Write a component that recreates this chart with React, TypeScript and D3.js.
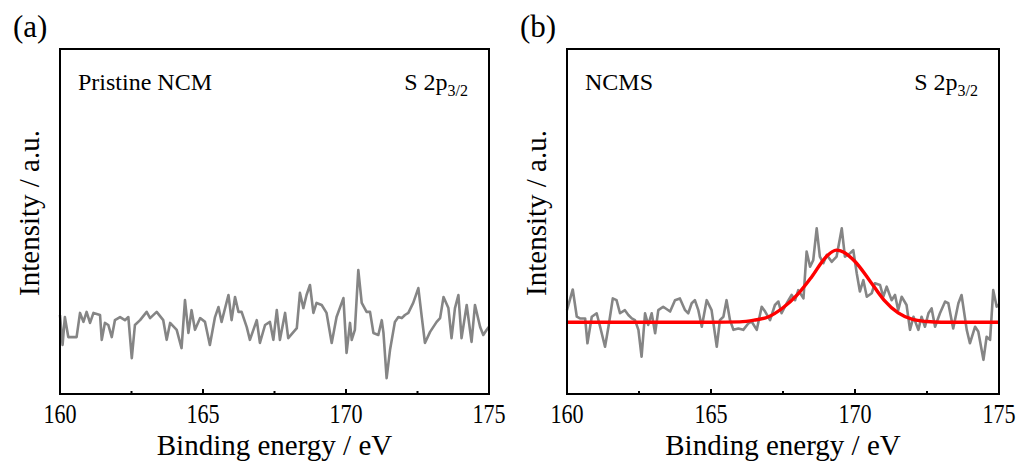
import React from 'react'
import * as d3 from 'd3'

// (a) pristine NCM, S 2p3/2 region
const energyA = [160.0, 160.09, 160.17, 160.29, 160.58, 160.7, 160.82, 160.93, 161.05, 161.17, 161.4, 161.46, 161.57, 161.69, 161.81, 161.92, 162.1, 162.27, 162.39, 162.51, 162.62, 162.8, 163.03, 163.15, 163.38, 163.61, 163.73, 163.85, 164.08, 164.25, 164.37, 164.49, 164.6, 164.72, 164.9, 165.07, 165.24, 165.42, 165.54, 165.65, 165.89, 166.0, 166.12, 166.24, 166.35, 166.53, 166.64, 166.88, 166.99, 167.17, 167.34, 167.46, 167.58, 167.69, 167.87, 167.98, 168.28, 168.39, 168.51, 168.62, 168.74, 168.86, 168.97, 169.15, 169.32, 169.5, 169.67, 169.91, 170.02, 170.14, 170.2, 170.31, 170.43, 170.55, 170.72, 170.84, 170.96, 171.13, 171.25, 171.31, 171.42, 171.54, 171.71, 171.83, 171.95, 172.06, 172.18, 172.35, 172.53, 172.65, 172.76, 172.94, 173.17, 173.29, 173.41, 173.58, 173.69, 173.81, 173.93, 174.04, 174.22, 174.39, 174.51, 174.69, 174.8, 174.92, 175.0]
const intensityA = [22.9, 14.2, 22.3, 16.5, 16.5, 23.5, 20.9, 23.8, 20.6, 23.5, 22.9, 15.7, 20.6, 20.0, 16.5, 21.4, 22.3, 21.4, 22.3, 10.4, 20.0, 21.4, 23.8, 22.0, 23.8, 21.4, 15.7, 20.6, 18.6, 13.3, 27.2, 17.7, 24.3, 18.6, 22.0, 20.9, 14.2, 22.3, 25.2, 20.9, 28.7, 21.4, 28.1, 23.8, 23.8, 19.4, 15.7, 21.4, 14.8, 20.0, 20.9, 15.7, 24.3, 15.7, 23.5, 16.2, 19.1, 29.3, 24.9, 28.7, 31.6, 23.5, 26.4, 25.8, 23.5, 14.8, 22.3, 27.8, 11.9, 20.6, 15.7, 18.6, 35.9, 26.4, 23.8, 23.8, 17.7, 17.1, 21.4, 17.7, 4.6, 12.8, 20.9, 22.3, 22.0, 22.9, 23.5, 26.4, 30.7, 22.3, 14.8, 18.0, 20.9, 22.0, 28.1, 24.9, 16.2, 24.9, 28.7, 16.2, 25.8, 15.1, 25.8, 19.4, 17.1, 18.6, 19.5]

// (b) NCMS raw spectrum
const energyB = [160.0, 160.2, 160.34, 160.45, 160.63, 160.71, 160.86, 161.03, 161.15, 161.32, 161.44, 161.59, 161.72, 161.84, 162.01, 162.13, 162.25, 162.36, 162.48, 162.59, 162.71, 162.82, 162.94, 163.06, 163.17, 163.34, 163.58, 163.75, 163.92, 164.1, 164.21, 164.33, 164.44, 164.56, 164.68, 164.85, 165.02, 165.2, 165.31, 165.43, 165.54, 165.66, 165.78, 165.95, 166.12, 166.3, 166.41, 166.59, 166.76, 166.88, 167.05, 167.22, 167.34, 167.45, 167.63, 167.8, 167.92, 168.03, 168.21, 168.32, 168.44, 168.55, 168.67, 168.78, 168.9, 169.02, 169.19, 169.36, 169.54, 169.65, 169.83, 169.94, 170.06, 170.17, 170.29, 170.41, 170.58, 170.69, 170.87, 170.98, 171.1, 171.27, 171.39, 171.5, 171.62, 171.79, 171.91, 172.03, 172.2, 172.31, 172.43, 172.55, 172.66, 172.78, 172.95, 173.13, 173.24, 173.41, 173.59, 173.7, 173.88, 173.99, 174.17, 174.28, 174.46, 174.57, 174.69, 174.8, 174.92, 175.0]
const intensityB = [24.3, 30.3, 22.4, 21.9, 21.9, 14.7, 22.4, 23.4, 19.5, 13.7, 19.5, 27.7, 27.2, 23.4, 24.3, 22.9, 21.9, 21.4, 18.6, 10.8, 23.4, 20.0, 23.4, 17.6, 24.3, 25.3, 23.9, 27.2, 27.7, 24.3, 23.4, 26.3, 27.2, 24.3, 19.5, 27.2, 24.3, 13.7, 21.4, 22.4, 27.2, 21.4, 18.6, 19.0, 18.6, 20.5, 21.0, 18.6, 25.3, 23.9, 21.4, 25.8, 26.8, 23.4, 26.3, 28.7, 27.2, 30.1, 27.7, 41.3, 36.9, 38.8, 48.0, 39.8, 37.9, 40.3, 38.3, 39.8, 48.0, 39.8, 40.8, 41.7, 35.0, 29.7, 33.0, 28.2, 29.2, 32.1, 31.6, 28.2, 31.1, 27.2, 28.7, 24.3, 28.2, 25.8, 18.6, 22.4, 18.6, 22.4, 19.5, 23.4, 24.8, 19.5, 23.4, 26.8, 26.3, 19.0, 26.3, 28.7, 18.6, 14.7, 19.5, 18.1, 9.9, 16.6, 15.7, 30.1, 25.3, 26.0]

// (b) fitted S 2p3/2 peak
const fitEnergy = [160, 163, 165, 166, 166.5, 167, 167.5, 168, 168.5, 169, 169.35, 169.5, 170, 170.5, 171, 171.5, 172, 172.5, 173, 175]
const fitIntensity = [20.8, 20.8, 20.8, 20.9, 21.4, 22.4, 25.0, 28.8, 34.0, 39.8, 41.7, 41.5, 38.4, 33.0, 27.3, 23.5, 21.6, 21.0, 20.8, 20.8]

const majorTicks = [160, 165, 170, 175]
const minorTicks = [162.5, 167.5, 172.5]

const FONT = '"Liberation Serif", "Times New Roman", serif'
const TOP = 49
const BOTTOM = 394

type PanelProps = {
  x0: number
  x1: number
  tag: string
  sample: string
  energy: number[]
  intensity: number[]
  fitE?: number[]
  fitI?: number[]
}

const Panel = ({ x0, x1, tag, sample, energy, intensity, fitE, fitI }: PanelProps) => {
  const x = d3.scaleLinear().domain([160, 175]).range([x0, x1])
  const y = d3.scaleLinear().domain([0, 100]).range([BOTTOM, TOP])

  const line = d3.line<number>()
    .x((_, i) => x(energy[i]))
    .y(d => y(d))

  const fitLine = d3.line<number>()
    .x((_, i) => x(fitE![i]))
    .y(d => y(d))
    .curve(d3.curveMonotoneX)

  return (
    <g>
      {/* panel tag */}
      <text x={x0 - 47} y={37} fontFamily={FONT} fontSize={31} fill="#000">{tag}</text>

      <path d={line(intensity) || ''} fill="none" stroke="#858585" strokeWidth={2.6} strokeLinejoin="round" />
      {fitE && fitI && (
        <path d={fitLine(fitI) || ''} fill="none" stroke="#ff0000" strokeWidth={3.4} />
      )}

      <rect x={x0} y={TOP} width={x1 - x0} height={BOTTOM - TOP} fill="none" stroke="#000" strokeWidth={2} />

      {majorTicks.map(t => (
        <g key={'M' + t}>
          <line x1={x(t)} x2={x(t)} y1={BOTTOM} y2={BOTTOM - 5} stroke="#000" strokeWidth={2} />
          <text transform={`translate(${x(t)},${423}) scale(0.82,1)`} textAnchor="middle"
            fontFamily={FONT} fontSize={27} fill="#000">{t}</text>
        </g>
      ))}
      {minorTicks.map(t => (
        <line key={'m' + t} x1={x(t)} x2={x(t)} y1={BOTTOM} y2={BOTTOM - 3} stroke="#000" strokeWidth={2} />
      ))}

      <text x={(x0 + x1) / 2} y={455} textAnchor="middle" fontFamily={FONT} fontSize={29} fill="#000">
        Binding energy / eV
      </text>
      <text transform={`translate(${x0 - 21},${213}) rotate(-90)`} textAnchor="middle"
        fontFamily={FONT} fontSize={29} fill="#000">
        Intensity / a.u.
      </text>

      <text x={x0 + 18} y={90} fontFamily={FONT} fontSize={24} fill="#000">{sample}</text>
      <text x={x1 - 21} y={90} textAnchor="end" fontFamily={FONT} fontSize={24} fill="#000">
        S 2p<tspan fontSize={16} dy={6}>3/2</tspan>
      </text>
    </g>
  )
}

export default function App() {
  return (
    <svg width={1032} height={463} style={{ position: 'absolute', left: 0, top: 0, background: '#fff' }}>
      <Panel x0={60} x1={489} tag="(a)" sample="Pristine NCM" energy={energyA} intensity={intensityA} />
      <Panel x0={567} x1={999} tag="(b)" sample="NCMS" energy={energyB} intensity={intensityB}
        fitE={fitEnergy} fitI={fitIntensity} />
    </svg>
  )
}
